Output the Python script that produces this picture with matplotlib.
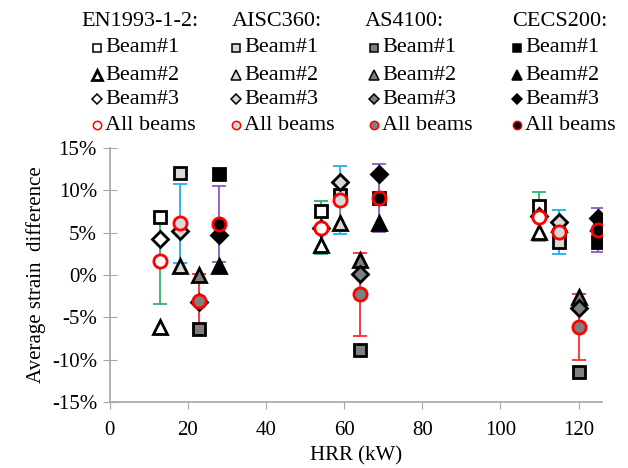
import numpy as np
import matplotlib
matplotlib.use('Agg')
import matplotlib.pyplot as plt
from matplotlib.lines import Line2D

plt.rcParams['font.family'] = ['Liberation Serif', 'DejaVu Serif']

# HRR (kW) at which each code/standard is plotted (small offsets per code)
codes = ['EN1993-1-2:', 'AISC360:', 'AS4100:', 'CECS200:']
hrr = {
    'EN1993-1-2:': [13, 54, 110],
    'AISC360:':    [18, 59, 115],
    'AS4100:':     [23, 64, 120],
    'CECS200:':    [28, 69, 125],
}

# average strain difference (%) per beam
beam1 = {
    'EN1993-1-2:': [6.8, 7.6, 8.2],
    'AISC360:':    [12.1, 9.4, 3.9],
    'AS4100:':     [-6.4, -8.8, -11.5],
    'CECS200:':    [11.9, 9.1, 3.9],
}
beam2 = {
    'EN1993-1-2:': [-6.1, 3.6, 5.1],
    'AISC360:':    [1.1, 6.2, 6.0],
    'AS4100:':     [0.0, 1.8, -2.6],
    'CECS200:':    [1.1, 6.2, 6.2],
}
beam3 = {
    'EN1993-1-2:': [4.2, 5.6, 7.0],
    'AISC360:':    [5.2, 11.0, 6.3],
    'AS4100:':     [-3.2, 0.1, -3.9],
    'CECS200:':    [4.7, 11.9, 6.7],
}
all_mean = {
    'EN1993-1-2:': [1.7, 5.6, 6.9],
    'AISC360:':    [6.1, 8.9, 5.1],
    'AS4100:':     [-3.1, -2.3, -6.1],
    'CECS200:':    [6.0, 9.1, 5.3],
}
all_err = {
    'EN1993-1-2:': [5.1, 3.1, 2.9],
    'AISC360:':    [4.7, 4.0, 2.6],
    'AS4100:':     [3.2, 4.9, 3.9],
    'CECS200:':    [4.5, 4.0, 2.6],
}

fills = {'EN1993-1-2:': 'white', 'AISC360:': '#d9d9d9',
         'AS4100:': '#7f7f7f', 'CECS200:': 'black'}
errc = {'EN1993-1-2:': '#2fb36a', 'AISC360:': '#1eb0ec',
        'AS4100:': '#ff2a2a', 'CECS200:': '#8a5cc0'}

fig = plt.figure(figsize=(6.28, 4.68), dpi=100)
ax = fig.add_axes([0.1744, 0.141, 0.7842, 0.5427])

for c in codes:
    x = hrr[c]
    ax.errorbar(x, all_mean[c], yerr=all_err[c], fmt='none', ecolor=errc[c],
                elinewidth=1.3, capsize=5, capthick=1.3, zorder=2)
    ax.plot(x, beam1[c], 's', ms=8.5, mfc=fills[c], mec='black', mew=2, zorder=3)
    ax.plot(x, beam2[c], '^', ms=10, mfc=fills[c], mec='black', mew=2, zorder=3)
    ax.plot(x, beam3[c], 'D', ms=8, mfc=fills[c], mec='black', mew=2, zorder=3)
    ax.plot(x, all_mean[c], 'o', ms=9.5, mfc=fills[c], mec='red', mew=2, zorder=4)

ax.set_xlim(0, 126)
ax.set_ylim(-15, 15)
ax.set_xticks(np.arange(0, 121, 20))
ax.set_yticks(np.arange(-15, 16, 5))
ax.set_yticklabels(['%d%%' % v for v in np.arange(-15, 16, 5)])
for s in ['top', 'right']:
    ax.spines[s].set_visible(False)
for s in ['left', 'bottom']:
    ax.spines[s].set_color('#a6a6a6')
    ax.spines[s].set_linewidth(1.2)
ax.tick_params(axis='y', direction='inout', length=10, color='#a6a6a6', labelsize=15, pad=4)
ax.tick_params(axis='x', direction='out', length=5, color='#a6a6a6', labelsize=15, pad=9)
ax.set_xlabel('HRR (kW)', fontsize=15, labelpad=4)
ax.set_ylabel('Average strain  difference', fontsize=15, labelpad=4)

# legend block drawn by hand (header + 4 entries per code)
W, H = 628.0, 468.0
head_x = [81, 232, 365, 512]
mark_x = [97, 236, 374, 517]
rows_y = [22, 48, 75, 99, 125]
labels = ['Beam#1', 'Beam#2', 'Beam#3', 'All beams']
mk = ['s', '^', 'D', 'o']
msz = [5.5, 7, 5, 6]
for i, c in enumerate(codes):
    fig.text(head_x[i] / W, 1 - rows_y[0] / H, c, fontsize=16, va='center', ha='left')
    for j in range(4):
        yy = 1 - rows_y[j + 1] / H
        ec = 'red' if mk[j] == 'o' else 'black'
        mw = 2 if (j == 1 and i == 0) else 1.1
        fig.add_artist(Line2D([mark_x[i] / W], [yy], marker=mk[j], ms=msz[j],
                              mfc=fills[c], mec=ec, mew=mw, ls='none',
                              transform=fig.transFigure))
        fig.text((mark_x[i] + 8) / W, yy, labels[j], fontsize=16, va='center', ha='left')

fig.savefig('out.png', dpi=100)
